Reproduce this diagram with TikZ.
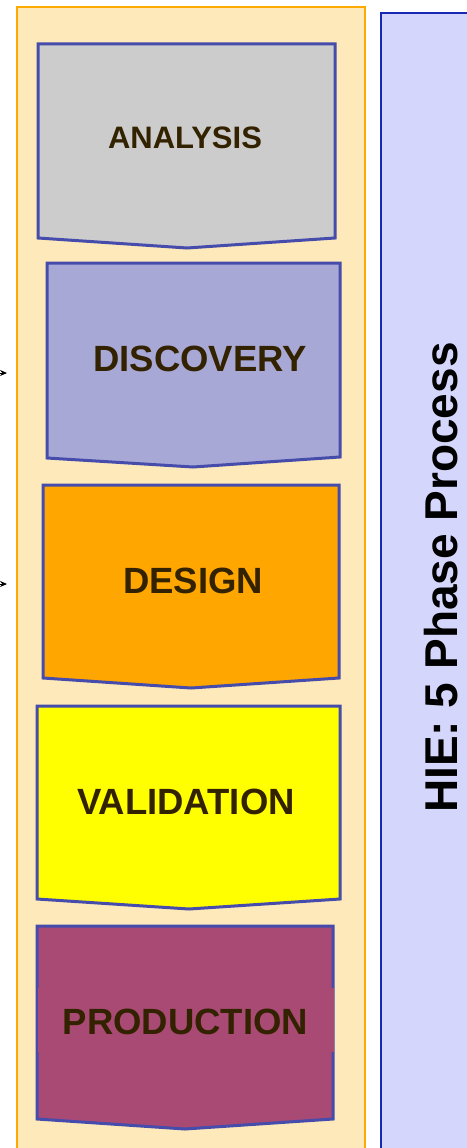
\documentclass[tikz,border=0pt]{standalone}
\usepackage{fontspec}
\setmainfont{Liberation Sans}
\usetikzlibrary{arrows.meta}
\definecolor{panelfill}{RGB}{253,233,185}
\definecolor{panelline}{RGB}{255,170,0}
\definecolor{sidefill}{RGB}{213,214,252}
\definecolor{sideline}{RGB}{24,40,180}
\definecolor{phaseline}{RGB}{70,76,172}
\definecolor{txt}{RGB}{51,34,0}
\definecolor{cAnalysis}{RGB}{204,204,204}
\definecolor{cDiscovery}{RGB}{168,168,214}
\definecolor{cDesign}{RGB}{255,166,0}
\definecolor{cValidation}{RGB}{255,255,0}
\definecolor{cProduction}{RGB}{168,74,116}
\tikzset{
  phasebox/.style={draw=phaseline, line width=3pt, line join=miter},
  phaselabel/.style={text=txt, font=\bfseries\fontsize{36.5}{36.5}\selectfont, inner sep=0pt},
  feed/.style={-{Stealth[length=7pt,width=6pt]}, line width=0.8pt, black}
}
\begin{document}
\begin{tikzpicture}[x=1pt,y=-1pt]
\useasboundingbox (0,0) rectangle (466,1148);
% panels
\fill[white] (0,0) rectangle (466,1148);
\draw[fill=panelfill, draw=panelline, line width=2.5pt] (17,7) rectangle (365,1160);
\draw[fill=sidefill, draw=sideline, line width=2.5pt] (381,13) rectangle (480,1160);
% phases
\draw[phasebox, fill=cAnalysis] (38,44) -- (335,44) -- (335,238) -- (187,248) -- (38,238) -- cycle;
\node[phaselabel, font=\bfseries\fontsize{31}{31}\selectfont] (analysis) at (185,138) {ANALYSIS};
\draw[phasebox, fill=cDiscovery] (47,263) -- (340,263) -- (340,457) -- (193,467) -- (47,458) -- cycle;
\node[phaselabel] (discovery) at (200,359) {DISCOVERY};
\draw[phasebox, fill=cDesign] (43,485) -- (339,485) -- (339,678) -- (191,688) -- (43,678) -- cycle;
\node[phaselabel] (design) at (193,581) {DESIGN};
\draw[phasebox, fill=cValidation] (37,706) -- (340,706) -- (340,899) -- (189,909) -- (37,899) -- cycle;
\node[phaselabel] (validation) at (186,802) {VALIDATION};
\draw[phasebox, fill=cProduction] (37,926) -- (333,926) -- (333,1119) -- (185,1129) -- (37,1119) -- cycle;
\node[phaselabel, fill=cProduction, minimum width=296pt, minimum height=64pt] (production) at (186,1020) {};
\node[phaselabel] (productiontext) at (185.5,1022) {PRODUCTION};
% title
\node[text=black, font=\bfseries\fontsize{46}{46}\selectfont, rotate=90, anchor=base, inner sep=0pt] (title) at (457,577.5) {HIE: 5 Phase Process};
% incoming arrows
\coordinate (in1s) at (-30,373);
\coordinate (in1e) at (7,373);
\coordinate (in2s) at (-30,584);
\coordinate (in2e) at (7,584);
\draw[feed] (in1s) -- (in1e);
\draw[feed] (in2s) -- (in2e);
\end{tikzpicture}
\end{document}
